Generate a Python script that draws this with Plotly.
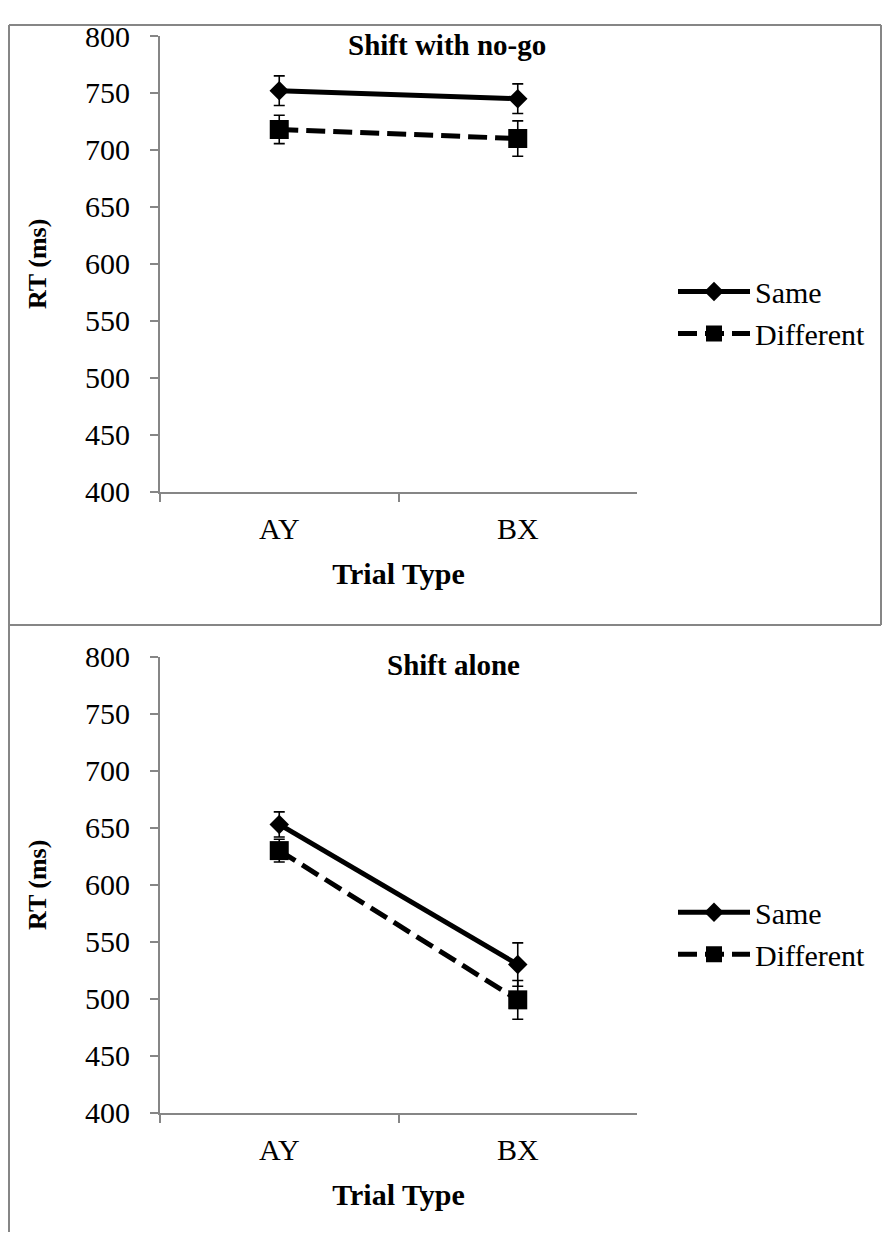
import plotly.graph_objects as go

# Figure sized to fit inside the page (body margin); reference page
# coordinates are mapped to figure coordinates with a measured offset/scale.
W, H = 874, 1224
OX = 8
OY, SY = 25, 0.9724

categories = ["AY", "BX"]
# Panel 1: Shift with no-go
p1_same = [752, 745]
p1_same_err = [13, 13]
p1_diff = [718, 710]
p1_diff_err = [12.5, 15.5]
# Panel 2: Shift alone
p2_same = [653, 530]
p2_same_err = [11, 19]
p2_diff = [630, 499]
p2_diff_err = [10, 17]

y_ticks = [400, 450, 500, 550, 600, 650, 700, 750, 800]
panel_titles = ["Shift with no-go", "Shift alone"]
series_names = ["Same", "Different"]

FONT = "Liberation Serif, Times New Roman, serif"
AX = "#868686"


def fx(x):
    return (x - OX) / W


def fy(y):
    return 1 - max(0.0, (y - OY) / SY) / H


fig = go.Figure()


def add_panel(same, same_err, diff, diff_err, xa, ya, legend):
    fig.add_trace(go.Scatter(
        x=categories, y=same, name=series_names[0], mode="lines+markers",
        xaxis=xa, yaxis=ya, legend=legend,
        line=dict(color="black", width=5),
        marker=dict(symbol="diamond", size=15, color="black"),
        error_y=dict(type="data", array=same_err, visible=True,
                     color="black", thickness=1.6, width=5.5),
    ))
    fig.add_trace(go.Scatter(
        x=categories, y=diff, name=series_names[1], mode="lines+markers",
        xaxis=xa, yaxis=ya, legend=legend,
        line=dict(color="black", width=5, dash="19px,8px"),
        marker=dict(symbol="square", size=19, color="black"),
        error_y=dict(type="data", array=diff_err, visible=True,
                     color="black", thickness=1.6, width=5.5),
    ))


add_panel(p1_same, p1_same_err, p1_diff, p1_diff_err, "x", "y", "legend")
add_panel(p2_same, p2_same_err, p2_diff, p2_diff_err, "x2", "y2", "legend2")

xdom = [fx(160), fx(637)]
y1dom = [fy(492), fy(37)]
y2dom = [fy(1112), fy(657)]


def xaxis_cfg(anchor):
    return dict(
        domain=xdom, anchor=anchor, type="category", range=[-0.5, 1.5],
        showline=True, linecolor=AX, linewidth=2, showgrid=False, zeroline=False,
        ticks="outside", tickson="boundaries", ticklen=8, tickcolor=AX, tickwidth=2,
        tickfont=dict(family=FONT, size=30, color="black"),
        ticklabelstandoff=9,
        title=dict(text="<b>Trial Type</b>", font=dict(family=FONT, size=30, color="black"),
                   standoff=19),
        fixedrange=True,
    )


def yaxis_cfg(anchor, dom):
    return dict(
        domain=dom, anchor=anchor, range=[400, 800], tickvals=y_ticks,
        showline=True, linecolor=AX, linewidth=2, showgrid=False, zeroline=False,
        ticks="outside", ticklen=8, tickcolor=AX, tickwidth=2,
        tickfont=dict(family=FONT, size=30, color="black"),
        ticklabelstandoff=14,
        title=dict(text="<b>RT (ms)</b>", font=dict(family=FONT, size=26, color="black"),
                   standoff=31),
        fixedrange=True,
    )


legend_common = dict(
    font=dict(family=FONT, size=30, color="black"),
    bgcolor="rgba(0,0,0,0)", xanchor="left", yanchor="middle",
    itemwidth=72,
)

shapes = []
border = dict(color=AX, width=2)
for (x0, y0, x1, y1) in [(9, 26, 881, 26), (9, 26, 9, 1240), (9, 625, 881, 625), (881, 26, 881, 625)]:
    shapes.append(dict(type="line", xref="paper", yref="paper",
                       x0=fx(x0), y0=fy(y0), x1=fx(x1), y1=fy(y1), line=border))

annotations = [
    dict(text="<b>%s</b>" % panel_titles[0], x=fx(447), y=fy(46), xref="paper", yref="paper",
         showarrow=False, font=dict(family=FONT, size=29, color="black"),
         xanchor="center", yanchor="middle"),
    dict(text="<b>%s</b>" % panel_titles[1], x=fx(453), y=fy(665), xref="paper", yref="paper",
         showarrow=False, font=dict(family=FONT, size=29, color="black"),
         xanchor="center", yanchor="middle"),
]

fig.update_layout(
    width=W, height=H, margin=dict(l=0, r=0, t=0, b=0),
    paper_bgcolor="white", plot_bgcolor="white",
    font=dict(family=FONT, color="black"),
    xaxis=xaxis_cfg("y"), yaxis=yaxis_cfg("x", y1dom),
    xaxis2=xaxis_cfg("y2"), yaxis2=yaxis_cfg("x2", y2dom),
    legend=dict(x=fx(673), y=fy(313), **legend_common),
    legend2=dict(x=fx(673), y=fy(933), **legend_common),
    shapes=shapes, annotations=annotations,
)

fig.write_html("out.html")
